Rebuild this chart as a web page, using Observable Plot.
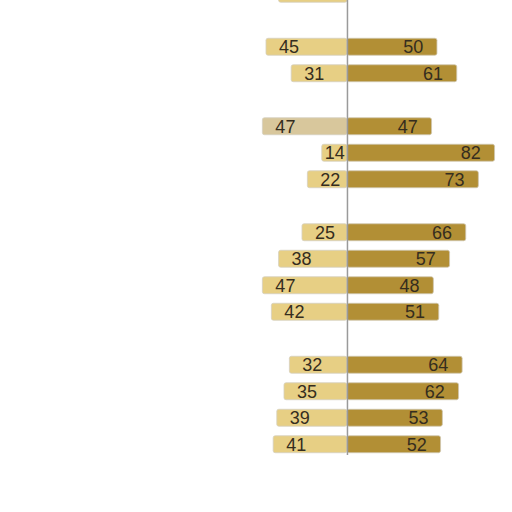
<!DOCTYPE html>
<html>
<head>
<meta charset="utf-8">
<script src="https://cdn.jsdelivr.net/npm/d3@7"></script>
<script src="https://cdn.jsdelivr.net/npm/@observablehq/plot@0.6"></script>
<style>
  html, body { margin: 0; padding: 0; background: #fff; }
  #chart svg { display: block; }
</style>
</head>
<body>
<div id="chart"></div>
<script>
// Row keys (gap rows are empty separators between groups)
const rows = ["r0", "g1", "r1", "r2", "g2", "r3", "r4", "r5", "g3", "r6", "r7", "r8", "r9", "g4", "r10", "r11", "r12", "r13"];
const barRows = ["r0", "r1", "r2", "r3", "r4", "r5", "r6", "r7", "r8", "r9", "r10", "r11", "r12", "r13"];
const leftValues = [38, 45, 31, 47, 14, 22, 25, 38, 47, 42, 32, 35, 39, 41];
const rightValues = [null, 50, 61, 47, 82, 73, 66, 57, 48, 51, 64, 62, 53, 52];
const leftTone = ["a", "a", "a", "b", "a", "a", "a", "a", "a", "a", "a", "a", "a", "a"];

const left = barRows.map((r, i) => ({row: r, value: leftValues[i], tone: leftTone[i]}));
const right = barRows.map((r, i) => ({row: r, value: rightValues[i]})).filter(d => d.value != null);

const chart = Plot.plot({
  width: 512,
  height: 455,
  margin: 0,
  style: {background: "#fff"},
  x: {domain: [-192.8, 91.7], range: [0, 512], axis: null},
  y: {type: "band", domain: rows, range: [-19.5, 457.5], round: false, paddingInner: 0.36, paddingOuter: 0.18, axis: null},
  marks: [
    Plot.barX(left, {
      y: "row", x1: 0, x2: d => -d.value,
      fill: d => d.tone === "b" ? "#d8c79c" : "#e7cf84",
      stroke: "#d6d0c0", strokeWidth: 0.8, rx: 2
    }),
    Plot.barX(right, {
      y: "row", x1: 0, x2: "value",
      fill: "#b28f35", stroke: "#cfc7b0", strokeWidth: 0.8, rx: 2
    }),
    Plot.ruleX([0], {stroke: "#9a9a9a", strokeWidth: 1.5}),
    Plot.text(left.filter(d => d.row !== "r0"), {
      y: "row", x: d => Math.min(-d.value + 12.5, -7), text: d => String(d.value),
      fill: "#352d1e", fontSize: 18, fontFamily: "Liberation Sans, Arial, sans-serif", textAnchor: "middle"
    }),
    Plot.text(right, {
      y: "row", x: d => d.value - 13.5, text: d => String(d.value),
      fill: "#352d1e", fontSize: 18, fontFamily: "Liberation Sans, Arial, sans-serif", textAnchor: "middle"
    })
  ]
});
document.getElementById("chart").appendChild(chart);
</script>
</body>
</html>
